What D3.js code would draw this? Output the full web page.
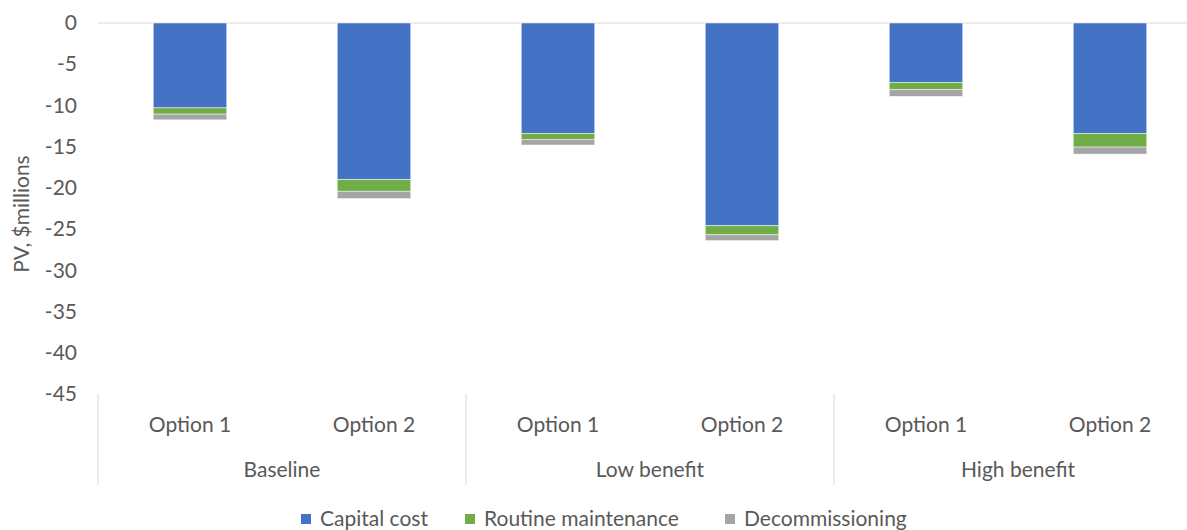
<!DOCTYPE html>
<html>
<head>
<meta charset="utf-8">
<title>PV by option</title>
<style>
  body { margin: 0; background: #fff; }
  svg text { font-family: Lato, "Open Sans", sans-serif; fill: #595959; font-size: 21px; }
</style>
<script type="text/javascript" src="https://d3js.org/d3.v7.min.js"></script>
</head>
<body>
<svg id="chart" width="1187" height="530"></svg>
<script type="text/javascript">
const groups = ["Baseline", "Low benefit", "High benefit"];
const options = ["Option 1", "Option 2"];
const capitalCost = [-10.3, -19.0, -13.4, -24.6, -7.2, -13.4];
const routineMaint = [-0.75, -1.4, -0.7, -1.1, -0.85, -1.65];
const decommissioning = [-0.7, -0.9, -0.7, -0.7, -0.85, -0.85];
const seriesNames = ["Capital cost", "Routine maintenance", "Decommissioning"];
const yTicks = [0, -5, -10, -15, -20, -25, -30, -35, -40, -45];

const COLORS = ["#4472C4", "#70AD47", "#A5A5A5"];
const chart = d3.select("#chart");
const W = 1187;
const TOP = 23, BOTTOM = 394, LEFT = 98, RIGHT = 1202;

// one row per bar
const rows = [];
groups.forEach((g, gi) => {
    options.forEach((o, oi) => {
        const i = gi * options.length + oi;
        rows.push({
            group: g, option: o,
            "Capital cost": capitalCost[i],
            "Routine maintenance": routineMaint[i],
            "Decommissioning": decommissioning[i]
        });
    });
});

const x0 = d3.scaleBand().domain(groups).range([LEFT, RIGHT]);
const x1 = d3.scaleBand().domain(options)
             .range([0, x0.bandwidth()])
             .paddingInner(0.6).paddingOuter(0.3);
const y = d3.scaleLinear().domain([-45, 0]).range([BOTTOM, TOP]);

const stacked = d3.stack().keys(seriesNames)
                  .offset(d3.stackOffsetDiverging)(rows);

// zero line
chart.append("line")
     .attr("x1", LEFT).attr("x2", W)
     .attr("y1", y(0)).attr("y2", y(0))
     .style("stroke", "#d9d9d9").style("stroke-width", 1);

// y axis labels
const yAxis = d3.axisLeft(y).tickValues(yTicks).tickSize(0).tickPadding(0)
                .tickFormat(d => String(d));
const yG = chart.append("g")
     .attr("transform", "translate(77,0)")
     .call(yAxis);
yG.select(".domain").remove();
yG.selectAll("text")
  .style("font-size", "21px")
  .style("font-family", "Lato, 'Open Sans', sans-serif")
  .attr("fill", "#595959");

chart.append("text")
     .attr("transform", `translate(29,214) rotate(-90)`)
     .attr("text-anchor", "middle")
     .text("PV, $millions");

// bars
chart.selectAll("g.series")
     .data(stacked)
     .join("g")
     .attr("class", "series")
     .attr("fill", (d, i) => COLORS[i])
     .selectAll("rect")
     .data(d => d)
     .join("rect")
     .attr("x", d => x0(d.data.group) + x1(d.data.option))
     .attr("width", x1.bandwidth())
     .attr("y", d => y(d[1]))
     .attr("height", d => y(d[0]) - y(d[1]))
     .style("stroke", "#fff")
     .style("stroke-width", 0.5);

// category separators
const seps = groups.map(g => x0(g)).concat([RIGHT]);
chart.selectAll("line.sep")
     .data(seps)
     .join("line")
     .attr("class", "sep")
     .attr("x1", d => d).attr("x2", d => d)
     .attr("y1", BOTTOM).attr("y2", 485)
     .style("stroke", "#d9d9d9").style("stroke-width", 1);

// option labels
chart.selectAll("text.opt")
     .data(rows)
     .join("text")
     .attr("class", "opt")
     .attr("x", d => x0(d.group) + x1(d.option) + x1.bandwidth() / 2)
     .attr("y", 432)
     .attr("text-anchor", "middle")
     .text(d => d.option);

// group labels
chart.selectAll("text.grp")
     .data(groups)
     .join("text")
     .attr("class", "grp")
     .attr("x", d => x0(d) + x0.bandwidth() / 2)
     .attr("y", 477)
     .attr("text-anchor", "middle")
     .text(d => d);

// legend
const legendX = [301, 465, 725];
const leg = chart.selectAll("g.leg")
     .data(seriesNames)
     .join("g")
     .attr("class", "leg")
     .attr("transform", (d, i) => `translate(${legendX[i]},519)`);
leg.append("rect")
   .attr("x", 0).attr("y", -5)
   .attr("width", 10).attr("height", 10)
   .attr("fill", (d, i) => COLORS[i]);
leg.append("text")
   .attr("x", 19).attr("y", 7)
   .text(d => d);
</script>
</body>
</html>
